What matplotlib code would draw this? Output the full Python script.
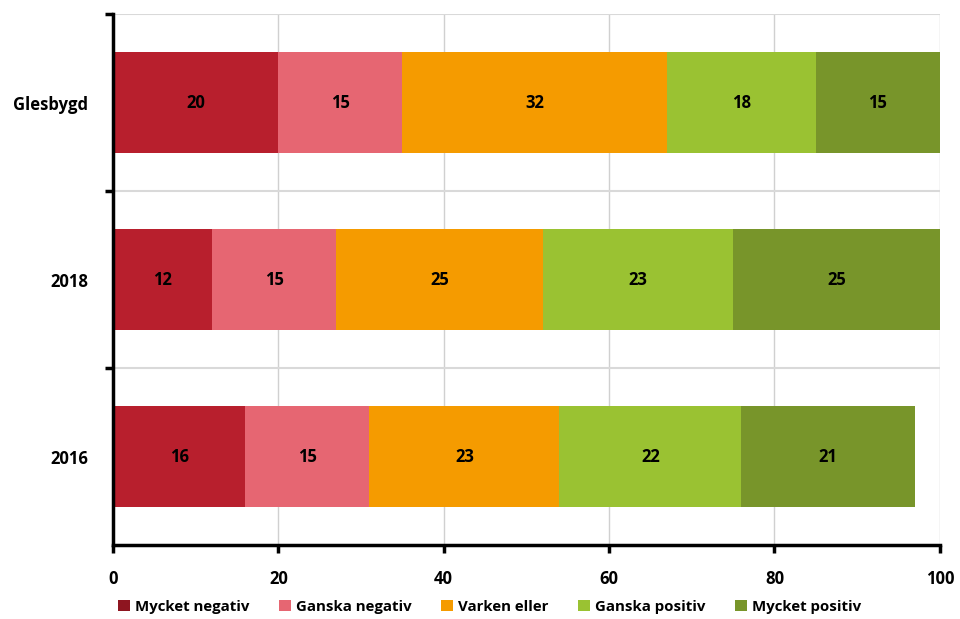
import numpy as np
import matplotlib.pyplot as plt
from matplotlib.patches import Patch

plt.rcParams['font.family'] = ['Open Sans', 'DejaVu Sans']
plt.rcParams['font.weight'] = 'bold'

# Data
categories = ["2016", "2018", "Glesbygd"]
series = ["Mycket negativ", "Ganska negativ", "Varken eller", "Ganska positiv", "Mycket positiv"]
values = {
    "Mycket negativ": [16, 12, 20],
    "Ganska negativ": [15, 15, 15],
    "Varken eller": [23, 25, 32],
    "Ganska positiv": [22, 23, 18],
    "Mycket positiv": [21, 25, 15],
}
colors = ["#B81F2D", "#E66672", "#F59B00", "#9AC232", "#78952A"]
legend_colors = ["#8E1520", "#E66672", "#F59B00", "#9AC232", "#78952A"]

fig = plt.figure(figsize=(9.6, 6.19), dpi=100)
ax = fig.add_axes([0.1177, 0.1195, 0.979 - 0.1177, 0.977 - 0.1195])

y = np.arange(len(categories))
left = np.zeros(len(categories))
for name, color in zip(series, colors):
    vals = np.array(values[name], dtype=float)
    ax.barh(y, vals, left=left, height=0.57, color=color, zorder=3)
    for yi, l, v in zip(y, left, vals):
        ax.text(l + v / 2, yi, f"{v:g}", ha="center", va="center",
                fontsize=12, fontweight="bold", color="black", zorder=4)
    left += vals

ax.set_xlim(0, 100)
ax.set_ylim(-0.5, 2.5)
ax.set_xticks(np.arange(0, 101, 20))
ax.set_yticks(y)
ax.set_yticklabels(categories)
ax.set_yticks([0.5, 1.5, 2.5], minor=True)

# grid
for xv in np.arange(20, 101, 20):
    ax.axvline(xv, color="#D0D0D0", lw=1, zorder=1)
for yv in [0.5, 1.5, 2.5]:
    ax.axhline(yv, color="#D9D9D9", lw=1.5, zorder=1)

for s in ["top", "right"]:
    ax.spines[s].set_visible(False)
ax.spines["left"].set_linewidth(2.5)
ax.spines["bottom"].set_linewidth(2.5)
ax.spines["left"].set_zorder(5)
ax.spines["bottom"].set_zorder(5)

ax.tick_params(axis="y", which="major", length=0, pad=18, labelsize=12)
ax.tick_params(axis="y", which="minor", length=6, width=2.5, direction="out")
ax.tick_params(axis="x", length=6, width=2.5, direction="out", pad=12, labelsize=12)
for lab in ax.get_xticklabels() + ax.get_yticklabels():
    lab.set_fontweight("bold")

handles = [Patch(facecolor=c, label=n) for n, c in zip(series, legend_colors)]
fig.legend(handles=handles, loc="center", bbox_to_anchor=(0.51, 0.02), ncol=5,
           frameon=False, fontsize=10.8, handlelength=0.8, handleheight=0.8,
           handletextpad=0.3, columnspacing=2.0)

fig.savefig("out.png", dpi=100)
